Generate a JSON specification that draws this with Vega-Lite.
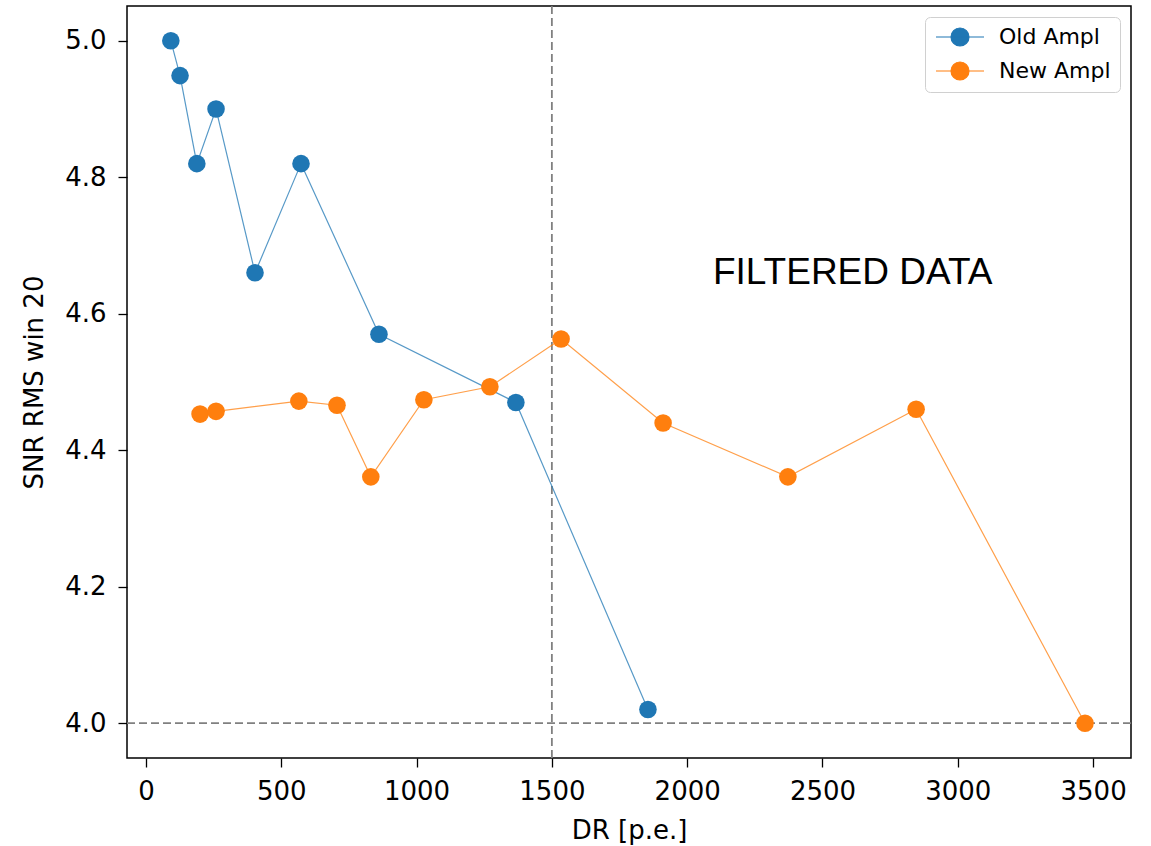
{
  "$schema": "https://vega.github.io/schema/vega-lite/v6.json",
  "autosize": {"type": "none"},
  "width": 1004,
  "height": 752,
  "padding": {"left": 127, "top": 6, "right": 20, "bottom": 88},
  "background": "white",
  "config": {
    "view": {"stroke": "black", "strokeWidth": 1.5},
    "font": "DejaVu Sans",
    "axis": {
      "grid": false,
      "domain": false,
      "tickColor": "black",
      "tickSize": 9,
      "tickWidth": 1.3,
      "labelFont": "DejaVu Sans",
      "labelFontSize": 26,
      "labelColor": "black",
      "titleFont": "DejaVu Sans",
      "titleFontSize": 26,
      "titleFontWeight": "normal",
      "titleColor": "black"
    },
    "legend": {
      "orient": "top-right",
      "offset": 11,
      "strokeColor": "#d0d0d0",
      "cornerRadius": 5,
      "padding": 9,
      "labelFont": "DejaVu Sans",
      "labelFontSize": 22,
      "labelColor": "black",
      "rowPadding": 10,
      "fillColor": "white"
    }
  },
  "datasets": {
    "pts": [
      {"series": "Old Ampl", "i": 0, "dr": 92, "snr": 5.0},
      {"series": "Old Ampl", "i": 1, "dr": 126, "snr": 4.949},
      {"series": "Old Ampl", "i": 2, "dr": 188, "snr": 4.82},
      {"series": "Old Ampl", "i": 3, "dr": 259, "snr": 4.90},
      {"series": "Old Ampl", "i": 4, "dr": 403, "snr": 4.66},
      {"series": "Old Ampl", "i": 5, "dr": 573, "snr": 4.82},
      {"series": "Old Ampl", "i": 6, "dr": 861, "snr": 4.57},
      {"series": "Old Ampl", "i": 7, "dr": 1367, "snr": 4.47},
      {"series": "Old Ampl", "i": 8, "dr": 1855, "snr": 4.02},
      {"series": "New Ampl", "i": 0, "dr": 200, "snr": 4.453},
      {"series": "New Ampl", "i": 1, "dr": 259, "snr": 4.457},
      {"series": "New Ampl", "i": 2, "dr": 565, "snr": 4.472},
      {"series": "New Ampl", "i": 3, "dr": 706, "snr": 4.466},
      {"series": "New Ampl", "i": 4, "dr": 831, "snr": 4.361},
      {"series": "New Ampl", "i": 5, "dr": 1027, "snr": 4.474},
      {"series": "New Ampl", "i": 6, "dr": 1271, "snr": 4.493},
      {"series": "New Ampl", "i": 7, "dr": 1534, "snr": 4.563},
      {"series": "New Ampl", "i": 8, "dr": 1911, "snr": 4.44},
      {"series": "New Ampl", "i": 9, "dr": 2372, "snr": 4.361},
      {"series": "New Ampl", "i": 10, "dr": 2846, "snr": 4.46},
      {"series": "New Ampl", "i": 11, "dr": 3470, "snr": 4.0}
    ]
  },
  "layer": [
    {
      "data": {"values": [{"x": 1500}]},
      "mark": {"type": "rule", "color": "#808080", "strokeWidth": 1.8, "strokeDash": [8, 4]},
      "encoding": {"x": {"field": "x", "type": "quantitative"}}
    },
    {
      "data": {"values": [{"y": 4.0}]},
      "mark": {"type": "rule", "color": "#808080", "strokeWidth": 1.8, "strokeDash": [8, 4]},
      "encoding": {"y": {"field": "y", "type": "quantitative"}}
    },
    {
      "data": {"name": "pts"},
      "mark": {"type": "line", "strokeWidth": 1.2, "opacity": 0.75},
      "encoding": {
        "x": {"field": "dr", "type": "quantitative", "scale": {"domain": [-70, 3640], "nice": false, "zero": false},
          "axis": {"values": [0, 500, 1000, 1500, 2000, 2500, 3000, 3500], "format": "d", "title": "DR [p.e.]", "labelPadding": 11, "titlePadding": 13}},
        "y": {"field": "snr", "type": "quantitative", "scale": {"domain": [3.949, 5.051], "nice": false, "zero": false},
          "axis": {"values": [4.0, 4.2, 4.4, 4.6, 4.8, 5.0], "format": ".1f", "title": "SNR RMS win 20", "labelPadding": 12, "titlePadding": 17}},
        "color": {"field": "series", "type": "nominal",
          "scale": {"domain": ["Old Ampl", "New Ampl"], "range": ["#1f77b4", "#ff7f0e"]},
          "legend": {"title": null, "symbolType": "M -2.67 0 L 2.67 0 M 1 0 A 1 1 0 1 1 -1 0 A 1 1 0 1 1 1 0", "symbolStrokeWidth": 1.2, "symbolSize": 324, "symbolOpacity": 1, "symbolOffset": 15, "labelOffset": 28}}
      }
    },
    {
      "data": {"name": "pts"},
      "mark": {"type": "point", "filled": true, "opacity": 1, "size": 310, "shape": "circle"},
      "encoding": {
        "x": {"field": "dr", "type": "quantitative"},
        "y": {"field": "snr", "type": "quantitative"},
        "color": {"field": "series", "type": "nominal",
          "scale": {"domain": ["Old Ampl", "New Ampl"], "range": ["#1f77b4", "#ff7f0e"]},
          "legend": {"title": null, "symbolType": "M -2.67 0 L 2.67 0 M 1 0 A 1 1 0 1 1 -1 0 A 1 1 0 1 1 1 0", "symbolStrokeWidth": 1.2, "symbolSize": 324, "symbolOpacity": 1, "symbolOffset": 15, "labelOffset": 28}}
      }
    },
    {
      "data": {"values": [{"x": 2095, "y": 4.66, "t": "FILTERED DATA"}]},
      "mark": {"type": "text", "align": "left", "baseline": "middle", "font": "Liberation Sans", "fontSize": 37, "color": "black"},
      "encoding": {
        "x": {"field": "x", "type": "quantitative"},
        "y": {"field": "y", "type": "quantitative"},
        "text": {"field": "t"}
      }
    }
  ]
}
